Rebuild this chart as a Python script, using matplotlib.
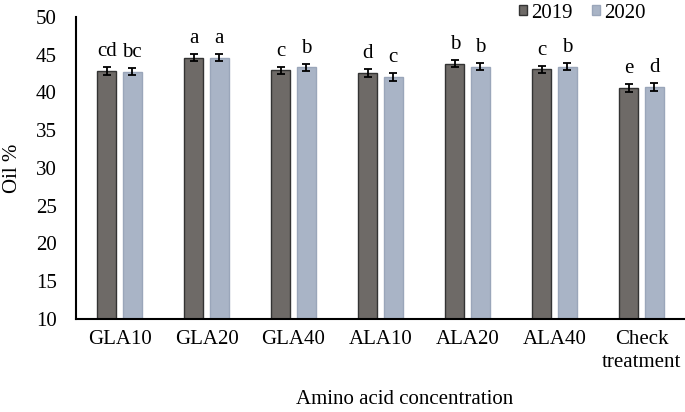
import matplotlib
matplotlib.use("Agg")
import matplotlib.pyplot as plt
import numpy as np

categories = ["GLA10", "GLA20", "GLA40", "ALA10", "ALA20", "ALA40", "Check\ntreatment"]
oil_2019 = [42.8, 44.6, 42.9, 42.6, 43.8, 43.05, 40.6]
oil_2020 = [42.75, 44.6, 43.3, 42.05, 43.4, 43.4, 40.7]
err_2019 = [0.5, 0.5, 0.5, 0.5, 0.5, 0.5, 0.5]
err_2020 = [0.5, 0.5, 0.5, 0.5, 0.5, 0.5, 0.5]
letters_2019 = ["cd", "a", "c", "d", "b", "c", "e"]
letters_2020 = ["bc", "a", "b", "c", "b", "b", "d"]

plt.rcParams['font.family'] = ['Liberation Serif', 'DejaVu Serif']
plt.rcParams['font.size'] = 15

fig = plt.figure(figsize=(6.85, 4.12), dpi=100)
ax = fig.add_axes([0.111, 0.226, 0.889, 0.733])

x = np.arange(len(categories))
w = 0.22
off = 0.145
ekw = dict(elinewidth=1.3, capsize=3, capthick=1.3, ecolor="black")
ax.bar(x - off, oil_2019, w, yerr=err_2019, color="#6e6a67", edgecolor="#333333",
       linewidth=1.0, error_kw=ekw, label="2019", zorder=2)
ax.bar(x + off, oil_2020, w, yerr=err_2020, color="#a9b4c6", edgecolor="#9aa6ba",
       linewidth=1.0, error_kw=ekw, label="2020", zorder=2)

for i in range(len(categories)):
    ax.text(x[i] - off, oil_2019[i] + err_2019[i] + 0.8, letters_2019[i],
            ha="center", va="bottom", fontsize=15)
    ax.text(x[i] + off, oil_2020[i] + err_2020[i] + 0.8, letters_2020[i],
            ha="center", va="bottom", fontsize=15)

ax.set_ylim(10, 50)
ax.set_yticks(range(10, 51, 5))
ax.set_xlim(-0.5, 6.5)
ax.set_xticks(x)
ax.set_xticklabels(categories, linespacing=1.3)
ax.tick_params(axis="both", length=0, labelsize=15)
ax.tick_params(axis="x", pad=8)
ax.tick_params(axis="y", pad=14)
for s in ["top", "right"]:
    ax.spines[s].set_visible(False)
for s in ["left", "bottom"]:
    ax.spines[s].set_linewidth(1.5)

ax.set_ylabel("Oil %", fontsize=15, labelpad=10)
ax.set_xlabel("Amino acid concentration", fontsize=15, labelpad=14)
ax.xaxis.set_label_coords(0.54, -0.235)

leg = fig.legend(loc="center left", bbox_to_anchor=(519 / 685, 0.968), ncol=2, frameon=False,
                 handlelength=0.4, handleheight=0.4, handletextpad=0.2, columnspacing=0.9,
                 fontsize=15, borderaxespad=0, borderpad=0)

fig.savefig("out.png", dpi=100)
